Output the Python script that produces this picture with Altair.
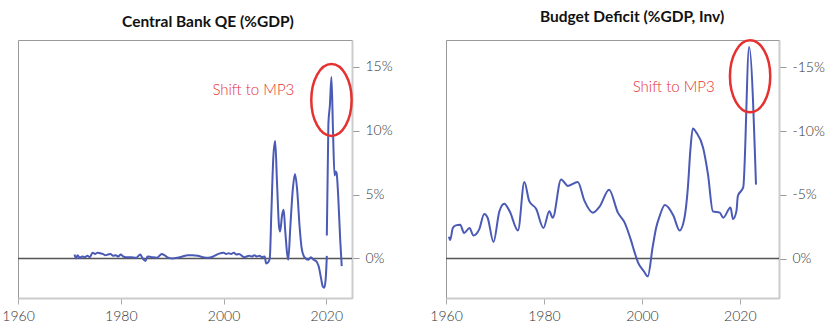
import altair as alt
import pandas as pd

# ---- Central Bank QE (%GDP) ----
qe_year = [1971.0, 1971.3, 1971.6, 1972.0, 1972.5, 1973.0, 1973.5, 1974.0, 1974.5, 1975.0,
           1975.5, 1976.0, 1976.5, 1977.0, 1977.5, 1978.0, 1978.5, 1979.0, 1979.5, 1980.0,
           1980.5, 1981.0, 1982.0, 1983.0, 1983.8, 1984.2, 1984.8, 1985.2, 1986.0, 1987.0,
           1988.0, 1988.5, 1989.0, 1990.0, 1991.0, 1992.0, 1993.0, 1994.0, 1995.0, 1996.0,
           1997.0, 1998.0, 1999.0, 2000.0, 2000.5, 2001.0, 2001.5, 2002.0, 2002.5, 2003.0,
           2004.0, 2005.0, 2005.5, 2006.0, 2006.5, 2007.0, 2007.5, 2008.0, 2008.3, 2008.7,
           2009.0, 2009.3, 2009.7, 2010.05, 2010.4, 2010.8, 2011.0, 2011.4, 2011.7, 2012.0,
           2012.4, 2012.6, 2013.0, 2013.5, 2013.9, 2014.3, 2014.8, 2015.2, 2015.6, 2016.0,
           2016.5, 2017.0, 2017.5, 2018.0, 2018.5, 2019.0, 2019.3, 2019.6, 2019.9, 2020.1,
           2020.1, 2020.4, 2020.7, 2021.0, 2021.3, 2021.6, 2021.8, 2022.0, 2022.3, 2022.7, 2023.0]
qe_value = [0.3, 0.0, 0.25, 0.05, 0.15, 0.1, 0.2, 0.1, 0.45, 0.35,
            0.45, 0.4, 0.35, 0.25, 0.3, 0.35, 0.2, 0.25, 0.15, 0.3,
            0.15, 0.1, 0.1, 0.05, 0.3, 0.05, -0.2, 0.15, 0.1, 0.05,
            0.35, 0.25, 0.1, 0.0, 0.05, 0.15, 0.25, 0.25, 0.2, 0.1,
            0.05, 0.15, 0.35, 0.45, 0.35, 0.4, 0.35, 0.45, 0.3, 0.35,
            0.1, 0.2, 0.15, 0.25, 0.15, 0.2, 0.1, 0.15, -0.4, -0.3,
            0.0, 3.5, 8.0, 9.2, 6.0, 2.5, 2.1, 3.4, 3.8, 2.2,
            0.3, -0.1, 2.5, 5.5, 6.6, 5.5, 2.5, 0.8, 0.2, 0.0,
            -0.1, 0.1, -0.1, -0.2, -0.6, -1.6, -2.2, -2.3, -1.5, 0.2,
            1.8, 10.5, 12.0, 14.2, 10.0, 6.5, 6.8, 6.7, 5.0, 1.5, -0.6]
qe_seg = [1] * 90 + [2] * 11

# ---- Budget Deficit (%GDP, inverted axis) ----
bd_year = [1960.6, 1960.85, 1961.4, 1962.0, 1962.9, 1963.7, 1964.8, 1965.6, 1966.8, 1967.8,
           1968.5, 1969.7, 1970.9, 1971.9, 1973.0, 1974.7, 1976.0, 1977.0, 1978.4, 1979.9,
           1981.1, 1981.8, 1983.5, 1984.9, 1986.9, 1988.3, 1990.0, 1991.4, 1993.3, 1995.1,
           1996.5, 1997.8, 1998.5, 1999.2, 2000.4, 2001.2, 2002.2, 2002.9, 2003.6, 2004.7,
           2006.4, 2007.7, 2008.7, 2009.4, 2009.9, 2010.4, 2011.1, 2012.5, 2013.5, 2014.5,
           2015.9, 2016.6, 2018.1, 2018.6, 2019.3, 2019.6, 2020.7, 2021.9, 2023.3]
bd_value = [-1.7, -1.45, -2.4, -2.6, -2.65, -2.0, -2.4, -1.8, -2.3, -3.5,
            -3.2, -1.3, -3.7, -4.3, -3.7, -2.2, -6.0, -4.5, -3.9, -2.4,
            -3.7, -3.2, -6.2, -5.7, -6.0, -4.5, -3.6, -4.1, -5.4, -3.6,
            -2.8, -1.4, -0.5, 0.3, 1.0, 1.4, -0.9, -2.4, -3.3, -4.2,
            -3.4, -2.2, -3.2, -5.6, -8.5, -10.2, -9.9, -8.7, -6.6, -3.7,
            -3.6, -3.2, -4.0, -3.1, -3.7, -4.9, -5.6, -16.6, -5.8]

titles = ["Central Bank QE (%GDP)", "Budget Deficit (%GDP, Inv)"]
note_text = ["Shift to MP3", "Shift to MP3"]
note_year = [2005.8, 2006.5]
note_value = [13.2, -13.5]
ring_year = [2021.0, 2022.1]
ring_value = [12.4, -14.3]

LINE = "#4a5ab5"
RED = "#e5312f"
FONT = "Lato"
ELLIPSE = "M-0.56,0 A0.56,1 0 1,0 0.56,0 A0.56,1 0 1,0 -0.56,0 Z"

qe_df = pd.DataFrame({"year": qe_year, "value": qe_value, "seg": qe_seg})
bd_df = pd.DataFrame({"year": bd_year, "value": bd_value})


def panel(df, title, xdom, ydom, reverse, yvals, width, idx, tdx, detail=None):
    x = alt.X("year:Q", scale=alt.Scale(domain=xdom, nice=False, zero=False),
              axis=alt.Axis(values=[1960, 1980, 2000, 2020], format="d", title=None,
                            grid=False, domainColor="#cccccc", domainWidth=2,
                            tickColor="#aaaaaa", tickSize=6, labelPadding=5,
                            labelFontSize=14, labelColor="#333333", labelFont=FONT,
                            labelFontWeight=300, labelFlush=False))
    yscale = alt.Scale(domain=ydom, nice=False, zero=False, reverse=reverse)
    y = alt.Y("value:Q", scale=yscale,
              axis=alt.Axis(orient="right", values=yvals, labelExpr="datum.value + '%'",
                            title=None, grid=False, domainColor="#cccccc", domainWidth=2,
                            tickColor="#999999", tickSize=7, labelPadding=6,
                            labelFontSize=14, labelColor="#333333", labelFont=FONT,
                            labelFontWeight=300))
    enc = dict(x=x, y=y)
    if detail:
        enc["detail"] = detail
    line = alt.Chart(df).mark_line(color=LINE, strokeWidth=2, interpolate="monotone").encode(**enc)
    zero = alt.Chart(pd.DataFrame({"z": [0]})).mark_rule(color="#555555", strokeWidth=1.5).encode(
        y=alt.Y("z:Q", scale=yscale))
    note = alt.Chart(pd.DataFrame({"year": [note_year[idx]], "value": [note_value[idx]],
                                   "t": [note_text[idx]]})).mark_text(
        color=RED, fontSize=15, font=FONT, fontWeight=300).encode(
        x=alt.X("year:Q"), y=alt.Y("value:Q"), text="t:N")
    ring = alt.Chart(pd.DataFrame({"year": [ring_year[idx]], "value": [ring_value[idx]]})).mark_point(
        shape=ELLIPSE, size=5184, filled=False, stroke=RED, strokeWidth=2.5, opacity=1).encode(
        x=alt.X("year:Q"), y=alt.Y("value:Q"))
    return alt.layer(zero, line, ring, note).properties(
        width=width, height=258,
        title=alt.TitleParams(title, fontSize=15.5, fontWeight="bold", font=FONT,
                              anchor="middle", frame="bounds", offset=10, dx=tdx,
                              color="#111111"))


left = panel(qe_df, titles[0], [1960, 2025], [-3.1, 17.1], False, [0, 5, 10, 15], 334, 0, 11,
             detail="seg:N")
right = panel(bd_df, titles[1], [1960, 2028], [-17.15, 3.1], True, [0, -5, -10, -15], 333, 1, 5)

chart = alt.hconcat(left, right, spacing=94, bounds="flush").properties(
    padding={"left": 1, "top": 9, "right": 5, "bottom": 5},
    background="white",
).configure_view(stroke="#999999", strokeWidth=1)

chart.save("out.html", embed_options={"renderer": "svg", "actions": False})
